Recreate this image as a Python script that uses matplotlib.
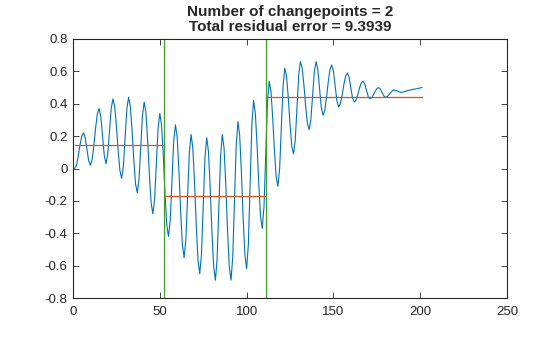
import numpy as np
import matplotlib
matplotlib.use('Agg')
import matplotlib.pyplot as plt

plt.rcParams['font.family'] = ['Liberation Sans', 'DejaVu Sans']
plt.rcParams['axes.unicode_minus'] = False

# signal values, sample index 1..201
signal = [
    0.000, 0.021, 0.076, 0.144, 0.199, 0.220, 0.191, 0.120, 0.049, 0.020,
    0.053, 0.141, 0.249, 0.337, 0.370, 0.320, 0.200, 0.080, 0.030, 0.088,
    0.230, 0.372, 0.430, 0.383, 0.261, 0.109, -0.013, -0.060, 0.013, 0.190,
    0.367, 0.440, 0.384, 0.236, 0.054, -0.094, -0.150, -0.068, 0.130, 0.328,
    0.410, 0.344, 0.172, -0.042, -0.214, -0.280, -0.189, 0.030, 0.249, 0.340,
    0.268, 0.078, -0.158, -0.348, -0.420, -0.319, -0.075, 0.169, 0.270, 0.192,
    -0.013, -0.267, -0.472, -0.550, -0.439, -0.170, 0.099, 0.210, 0.128, -0.087,
    -0.353, -0.568, -0.650, -0.527, -0.230, 0.067, 0.190, 0.106, -0.114, -0.386,
    -0.606, -0.690, -0.559, -0.240, 0.079, 0.210, 0.125, -0.100, -0.380, -0.605,
    -0.690, -0.547, -0.200, 0.147, 0.290, 0.204, -0.024, -0.306, -0.534, -0.620,
    -0.468, -0.100, 0.268, 0.420, 0.345, 0.147, -0.097, -0.295, -0.370, -0.237,
    0.085, 0.407, 0.540, 0.478, 0.316, 0.114, -0.048, -0.110, -0.003, 0.255,
    0.513, 0.620, 0.570, 0.437, 0.273, 0.140, 0.090, 0.173, 0.375, 0.577,
    0.660, 0.620, 0.515, 0.385, 0.280, 0.240, 0.301, 0.450, 0.599, 0.660,
    0.612, 0.495, 0.378, 0.330, 0.359, 0.437, 0.533, 0.611, 0.640, 0.602,
    0.510, 0.418, 0.380, 0.400, 0.452, 0.518, 0.570, 0.590, 0.564, 0.500,
    0.436, 0.410, 0.422, 0.455, 0.495, 0.528, 0.540, 0.524, 0.485, 0.446,
    0.430, 0.437, 0.454, 0.476, 0.493, 0.500, 0.491, 0.470, 0.449, 0.440,
    0.444, 0.456, 0.469, 0.481, 0.485, 0.483, 0.478, 0.472, 0.470, 0.472,
    0.475, 0.478, 0.482, 0.484, 0.486, 0.489, 0.491, 0.493, 0.495, 0.498,
    0.500,
]
changepoints = [52.4, 111.4]
seg_start = [1, 53, 112]
seg_end = [52, 111, 201]
seg_mean = [0.145, -0.17, 0.44]
residual_error = 9.3939

x = np.arange(1, len(signal) + 1)

fig = plt.figure(figsize=(5.6, 3.37), dpi=100)
ax = fig.add_axes([0.1304, 0.1157, 0.775, 0.7686])

ax.plot(x, signal, color='#0072BD', lw=0.8)
for s, e, m in zip(seg_start, seg_end, seg_mean):
    ax.plot([s, e], [m, m], color='#D95319', lw=0.9)
for cp in changepoints:
    ax.axvline(cp, color='#3C9F28', lw=0.9)

ax.set_xlim(0, 250)
ax.set_ylim(-0.8, 0.8)
ax.set_xticks(np.arange(0, 251, 50))
yt = np.round(np.arange(-0.8, 0.81, 0.2), 1)
ax.set_yticks(yt)
ax.set_yticklabels(['0' if v == 0 else f'{v:g}' for v in yt])
ax.tick_params(direction='in', top=True, right=True, length=4, width=0.6,
               labelsize=9.5, colors='#262626')
ax.tick_params(axis='x', pad=6)
ax.tick_params(axis='y', pad=4)
for sp in ax.spines.values():
    sp.set_linewidth(0.8)
    sp.set_color('#262626')

ax.set_title(f'Number of changepoints = {len(changepoints)}\n'
             f'Total residual error = {residual_error:.4f}',
             fontsize=11, fontweight='bold', color='#262626', pad=6,
             linespacing=1.05)

fig.savefig('out.png', dpi=100)
